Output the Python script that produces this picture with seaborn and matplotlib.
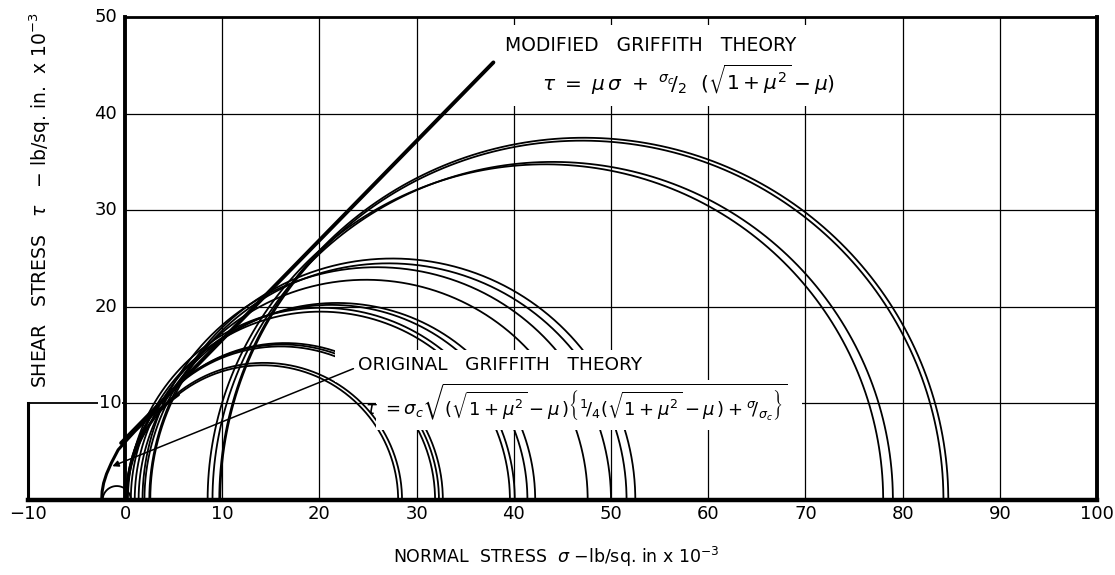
import numpy as np
import pandas as pd
import matplotlib
matplotlib.use("Agg")
import matplotlib.pyplot as plt
import seaborn as sns
from matplotlib.patches import Rectangle

# Mohr circles: principal stresses (lb/sq.in x 10^-3)
# sigma3 = left end on the normal-stress axis, sigma1 = right end
sigma3 = [9.7, 9.8, 9.0, 8.5,          # large circles (tops ~35-37.5)
          2.5, 2.6, 1.8, 2.0,          # tops ~23-25
          1.4, 1.0, 0.3, 0.6,          # tops ~20
          0.2, 0.1, 0.1, 0.1, 0.2,     # tops ~14-16
          -2.3]                        # tension circle
sigma1 = [84.7, 84.2, 79.0, 78.0,
          52.5, 51.6, 50.0, 47.6,
          42.2, 41.4, 40.1, 39.6,
          28.1, 28.5, 31.9, 32.3, 32.7,
          0.6]

# modified Griffith envelope (straight line), end points
mod_sigma = [-0.4, 37.9]
mod_tau = [5.9, 45.3]

# original Griffith envelope (parabola)
og_sigma = [-2.4, -2.35, -2.2, -1.9, -1.4, -0.7, 0.0, 1.0, 2.0, 3.0, 4.3, 5.5]
og_tau = [0.0, 0.9, 1.75, 2.7, 3.85, 5.2, 6.0, 7.1, 8.1, 9.0, 10.0, 10.9]

x_ticks = [-10, 0, 10, 20, 30, 40, 50, 60, 70, 80, 90, 100]
y_ticks = [20, 30, 40, 50]

sns.set_theme(style="white")
plt.rcParams["font.family"] = ["DejaVu Sans"]
plt.rcParams["mathtext.fontset"] = "dejavusans"
plt.rcParams["text.color"] = "black"

fig = plt.figure(figsize=(11.15, 5.75), dpi=100)
ax = fig.add_axes([0, 0, 1, 1])
ax.set_xlim(-12.86, 101.85)
ax.set_ylim(-7.76, 51.76)
ax.axis("off")

# grid
for x in range(10, 100, 10):
    ax.plot([x, x], [0, 50], color="black", lw=0.9, zorder=1)
for y in range(20, 50, 10):
    ax.plot([0, 100], [y, y], color="black", lw=0.9, zorder=1)
ax.plot([0, 100], [10, 10], color="black", lw=0.9, zorder=1)
ax.plot([-10, 0], [10, 10], color="black", lw=1.3, zorder=1)

# Mohr circles
rows = []
theta = np.linspace(np.pi, 0, 300)
for i, (s3, s1) in enumerate(zip(sigma3, sigma1)):
    c = (s1 + s3) / 2
    r = (s1 - s3) / 2
    for t in theta:
        rows.append({"circle": i, "sigma": c + r * np.cos(t), "tau": r * np.sin(t)})
circles = pd.DataFrame(rows)
sns.lineplot(data=circles, x="sigma", y="tau", units="circle", estimator=None,
             sort=False, color="black", lw=1.3, legend=False, ax=ax, zorder=2)

# envelopes
ax.plot(mod_sigma, mod_tau, color="black", lw=2.8, solid_capstyle="round", zorder=3)
ax.plot(og_sigma, og_tau, color="black", lw=2.2, zorder=3)

# white areas behind the annotations
for (x0, y0, x1, y1) in [(21.6, 12.2, 54.0, 15.5), (25.8, 7.2, 69.7, 12.4),
                         (38.6, 40.8, 74.6, 49.2)]:
    ax.add_patch(Rectangle((x0, y0), x1 - x0, y1 - y0, facecolor="white",
                           edgecolor="none", zorder=4))

# frame
frame_kw = dict(color="black", solid_capstyle="projecting", zorder=6)
ax.plot([0, 0], [0, 50], lw=2.8, **frame_kw)
ax.plot([0, 100], [50, 50], lw=2.0, **frame_kw)
ax.plot([100, 100], [0, 50], lw=2.8, **frame_kw)
ax.plot([-10, 100], [0, 0], lw=3.2, **frame_kw)
ax.plot([-10, -10], [0, 10], lw=2.2, **frame_kw)

# tick labels
for x in x_ticks:
    lab = "\u221210" if x == -10 else str(x)
    ax.text(x, -1.4, lab, ha="center", va="center", fontsize=13, zorder=7)
for y in y_ticks:
    ax.text(-0.8, y, str(y), ha="right", va="center", fontsize=13, zorder=7)
ax.text(-1.5, 10, "10", ha="center", va="center", fontsize=13, zorder=7,
        bbox=dict(facecolor="white", edgecolor="none", pad=0.5))

# axis titles
ax.text(-8.75, 31.0, "SHEAR   STRESS   $\\tau$   \u2212 lb/sq. in.  x 10$^{-3}$",
        rotation=90, ha="center", va="center", fontsize=13.5)
ax.text(44.4, -5.9, "NORMAL  STRESS  $\\sigma$ \u2212lb/sq. in x 10$^{-3}$",
        ha="center", va="center", fontsize=12.5)

# annotations
ax.text(39.1, 47.1, "MODIFIED   GRIFFITH   THEORY", ha="left", va="center",
        fontsize=13.5, zorder=7)
ax.text(42.9, 43.5,
        r"$\tau\ =\ \mu\,\sigma\ +\ {}^{\sigma_c}\!/_{2}\ \ (\sqrt{1+\mu^2}-\mu)$",
        ha="left", va="center", fontsize=14.5, zorder=7)
ax.text(24.0, 14.0, "ORIGINAL   GRIFFITH   THEORY", ha="left", va="center",
        fontsize=13.3, zorder=7)
ax.text(24.7, 10.1,
        r"$\tau\ = \sigma_c\sqrt{(\sqrt{1+\mu^2}-\mu\,)\left\{{}^1\!/_4(\sqrt{1+\mu^2}-\mu\,)+{}^{\sigma}\!/_{\sigma_c}\right\}}$",
        ha="left", va="center", fontsize=13, zorder=7)
ax.annotate("", xy=(-1.3, 3.5), xytext=(23.5, 13.6),
            arrowprops=dict(arrowstyle="-|>", color="black", lw=1.1,
                            mutation_scale=9, shrinkA=0, shrinkB=0), zorder=7)

fig.savefig("out.png", dpi=100, facecolor="white")
